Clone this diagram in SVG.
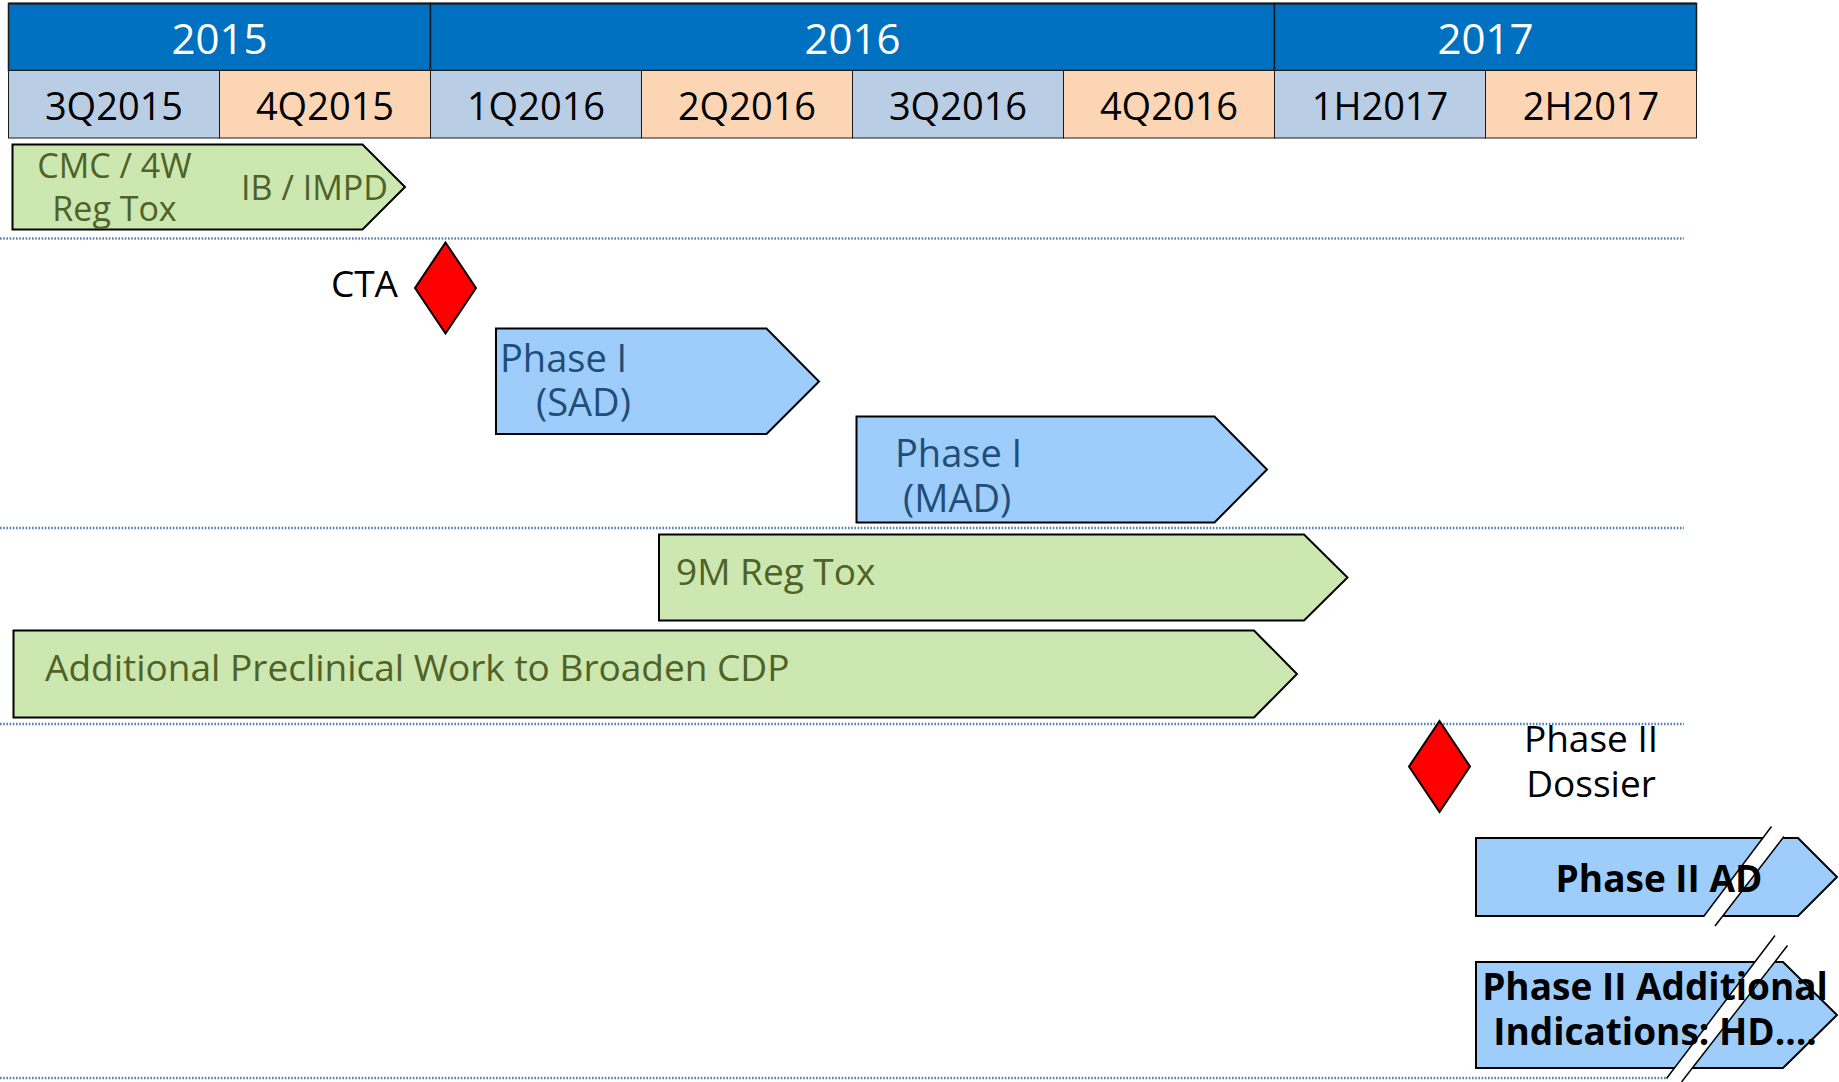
<svg xmlns="http://www.w3.org/2000/svg" width="1839" height="1082" viewBox="0 0 1839 1082">
  <style>
    text { font-family: "Open Sans", "Noto Sans", "DejaVu Sans", sans-serif; }
    .year { fill: #0070C0; stroke: #1a1a1a; stroke-width: 1.5; }
    .qa { fill: #B9CDE5; stroke: #1a1a1a; stroke-width: 1; }
    .qb { fill: #FCD5B5; stroke: #1a1a1a; stroke-width: 1; }
    .yt { fill: #ffffff; font-size: 42px; text-anchor: middle; }
    .qt { fill: #000000; font-size: 38px; text-anchor: middle; }
    .green { fill: #CCE7AF; stroke: #000000; stroke-width: 2; stroke-linejoin: miter; }
    .blue { fill: #9ECDFB; stroke: #000000; stroke-width: 2; stroke-linejoin: miter; }
    .gt { fill: #4F6228; font-size: 37px; }
    .gs { fill: #4F6228; font-size: 34px; text-anchor: middle; }
    .bt { fill: #1F4E79; font-size: 38px; }
    .kt { fill: #000000; font-size: 37px; }
    .bold { fill: #000000; font-size: 37px; font-weight: bold; text-anchor: middle; }
    .milestone { fill: #FF0000; stroke: #000000; stroke-width: 2; }
    .sep { stroke: #4F81BD; stroke-width: 2.5; stroke-dasharray: 1.6 1.6; fill: none; }
    .gap { fill: #ffffff; stroke: none; }
    .cut { stroke: #000000; stroke-width: 1.5; fill: none; }
  </style>

  <!-- timeline header -->
  <g id="header">
    <rect class="year" x="8.5" y="3.5" width="422" height="67"/>
    <rect class="year" x="430.5" y="3.5" width="844" height="67"/>
    <rect class="year" x="1274.5" y="3.5" width="422" height="67"/>
    <text class="yt" x="219.5" y="54">2015</text>
    <text class="yt" x="852.5" y="54">2016</text>
    <text class="yt" x="1485.5" y="54">2017</text>

    <rect class="qa" x="8.5" y="70.5" width="211" height="67.5"/>
    <rect class="qb" x="219.5" y="70.5" width="211" height="67.5"/>
    <rect class="qa" x="430.5" y="70.5" width="211" height="67.5"/>
    <rect class="qb" x="641.5" y="70.5" width="211" height="67.5"/>
    <rect class="qa" x="852.5" y="70.5" width="211" height="67.5"/>
    <rect class="qb" x="1063.5" y="70.5" width="211" height="67.5"/>
    <rect class="qa" x="1274.5" y="70.5" width="211" height="67.5"/>
    <rect class="qb" x="1485.5" y="70.5" width="211" height="67.5"/>
    <text class="qt" x="114" y="120">3Q2015</text>
    <text class="qt" x="325" y="120">4Q2015</text>
    <text class="qt" x="536" y="120">1Q2016</text>
    <text class="qt" x="747" y="120">2Q2016</text>
    <text class="qt" x="958" y="120">3Q2016</text>
    <text class="qt" x="1169" y="120">4Q2016</text>
    <text class="qt" x="1380" y="120">1H2017</text>
    <text class="qt" x="1591" y="120">2H2017</text>
    <line x1="8.5" y1="3.5" x2="1696.5" y2="3.5" stroke="#1a1a1a" stroke-width="2"/>
  </g>

  <!-- row separators -->
  <g id="connectors">
    <line class="sep" x1="0" y1="238.5" x2="1684" y2="238.5"/>
    <line class="sep" x1="0" y1="528" x2="1684" y2="528"/>
    <line class="sep" x1="0" y1="724" x2="1684" y2="724"/>
    <line class="sep" x1="0" y1="1078" x2="1668" y2="1078"/>
  </g>

  <g id="cmc-ib">
    <polygon class="green" points="12.5,144.5 362.5,144.5 405,187 362.5,229.5 12.5,229.5"/>
    <text class="gs" x="114.5" y="178">CMC / 4W</text>
    <text class="gs" x="114.5" y="220.5">Reg Tox</text>
    <text class="gs" x="314.5" y="200">IB / IMPD</text>
  </g>

  <g id="cta">
    <text class="kt" x="398" y="297" text-anchor="end">CTA</text>
    <polygon class="milestone" points="445.5,242.5 476,288 445.5,333.5 415,288"/>
  </g>

  <g id="phase1-sad">
    <polygon class="blue" points="496,328.5 766.5,328.5 819,381.5 766.5,434 496,434"/>
    <text class="bt" x="500" y="372">Phase I</text>
    <text class="bt" x="536" y="416">(SAD)</text>
  </g>

  <g id="phase1-mad">
    <polygon class="blue" points="856.5,416.5 1214.5,416.5 1267,469.5 1214.5,522.5 856.5,522.5"/>
    <text class="bt" x="895" y="467">Phase I</text>
    <text class="bt" x="903" y="511.5">(MAD)</text>
  </g>

  <g id="reg-tox-9m">
    <polygon class="green" points="659,534.5 1304,534.5 1347.5,577.5 1304,620.5 659,620.5"/>
    <text class="gt" x="676" y="585">9M Reg Tox</text>
  </g>

  <g id="preclinical">
    <polygon class="green" points="13.5,630.5 1254,630.5 1297,674 1254,717.5 13.5,717.5"/>
    <text class="gt" x="45" y="681" font-size="37.3">Additional Preclinical Work to Broaden CDP</text>
  </g>

  <g id="phase2-dossier">
    <polygon class="milestone" points="1439.5,721 1470,766.5 1439.5,812 1409,766.5"/>
    <text class="kt" x="1591" y="752" text-anchor="middle">Phase II</text>
    <text class="kt" x="1591" y="797" text-anchor="middle">Dossier</text>
  </g>

  <g id="phase2-ad">
    <polygon class="blue" points="1476,838 1798,838 1837,877 1798,916 1476,916"/>
    <polygon class="gap" points="1704,916 1771.5,826.5 1784,836.5 1715,926"/>
    <line class="cut" x1="1704" y1="916" x2="1771.5" y2="826.5"/>
    <line class="cut" x1="1715" y1="926" x2="1784" y2="836.5"/>
    <text class="bold" x="1659" y="892" font-size="38">Phase II AD</text>
  </g>

  <g id="phase2-additional">
    <polygon class="blue" points="1476,962 1783,962 1837,1015 1783,1068 1476,1068"/>
    <polygon class="gap" points="1666.5,1078.5 1775,935.5 1787.5,945.5 1681.5,1082"/>
    <line class="cut" x1="1666.5" y1="1078.5" x2="1775" y2="935.5"/>
    <line class="cut" x1="1681.5" y1="1082" x2="1787.5" y2="945.5"/>
    <text class="bold" x="1655" y="1000">Phase II Additional</text>
    <text class="bold" x="1655" y="1045">Indications: HD….</text>
  </g>
</svg>
